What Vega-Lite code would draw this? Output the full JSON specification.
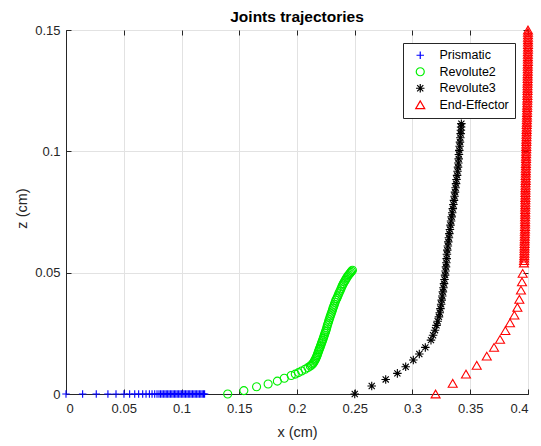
{
  "$schema": "https://vega.github.io/schema/vega-lite/v6.json",
  "autosize": {"type": "none"},
  "padding": {"left": 66, "top": 30, "right": 13, "bottom": 52},
  "width": 462,
  "height": 364,
  "title": {"text": "Joints trajectories", "fontSize": 15.5, "fontWeight": "bold", "color": "#000000", "font": "Liberation Sans", "offset": -2, "anchor": "middle"},
  "data": {"values": [
    {"series": "Prismatic", "x": 0, "z": 0},
    {"series": "Prismatic", "x": 0.0144, "z": 0},
    {"series": "Prismatic", "x": 0.0262, "z": 0},
    {"series": "Prismatic", "x": 0.0363, "z": 0},
    {"series": "Prismatic", "x": 0.0433, "z": 0},
    {"series": "Prismatic", "x": 0.0502, "z": 0},
    {"series": "Prismatic", "x": 0.0551, "z": 0},
    {"series": "Prismatic", "x": 0.0595, "z": 0},
    {"series": "Prismatic", "x": 0.0629, "z": 0},
    {"series": "Prismatic", "x": 0.0664, "z": 0},
    {"series": "Prismatic", "x": 0.0693, "z": 0},
    {"series": "Prismatic", "x": 0.0722, "z": 0},
    {"series": "Prismatic", "x": 0.0745, "z": 0},
    {"series": "Prismatic", "x": 0.0768, "z": 0},
    {"series": "Prismatic", "x": 0.0788, "z": 0},
    {"series": "Prismatic", "x": 0.0805, "z": 0},
    {"series": "Prismatic", "x": 0.0818, "z": 0},
    {"series": "Prismatic", "x": 0.0831, "z": 0},
    {"series": "Prismatic", "x": 0.0843, "z": 0},
    {"series": "Prismatic", "x": 0.0856, "z": 0},
    {"series": "Prismatic", "x": 0.0868, "z": 0},
    {"series": "Prismatic", "x": 0.088, "z": 0},
    {"series": "Prismatic", "x": 0.0892, "z": 0},
    {"series": "Prismatic", "x": 0.0904, "z": 0},
    {"series": "Prismatic", "x": 0.0916, "z": 0},
    {"series": "Prismatic", "x": 0.0928, "z": 0},
    {"series": "Prismatic", "x": 0.094, "z": 0},
    {"series": "Prismatic", "x": 0.0951, "z": 0},
    {"series": "Prismatic", "x": 0.0963, "z": 0},
    {"series": "Prismatic", "x": 0.0975, "z": 0},
    {"series": "Prismatic", "x": 0.0987, "z": 0},
    {"series": "Prismatic", "x": 0.0999, "z": 0},
    {"series": "Prismatic", "x": 0.1011, "z": 0},
    {"series": "Prismatic", "x": 0.1023, "z": 0},
    {"series": "Prismatic", "x": 0.1035, "z": 0},
    {"series": "Prismatic", "x": 0.1047, "z": 0},
    {"series": "Prismatic", "x": 0.1059, "z": 0},
    {"series": "Prismatic", "x": 0.1071, "z": 0},
    {"series": "Prismatic", "x": 0.1083, "z": 0},
    {"series": "Prismatic", "x": 0.1095, "z": 0},
    {"series": "Prismatic", "x": 0.1107, "z": 0},
    {"series": "Prismatic", "x": 0.1119, "z": 0},
    {"series": "Prismatic", "x": 0.1131, "z": 0},
    {"series": "Prismatic", "x": 0.1143, "z": 0},
    {"series": "Prismatic", "x": 0.1155, "z": 0},
    {"series": "Prismatic", "x": 0.1167, "z": 0},
    {"series": "Prismatic", "x": 0.1179, "z": 0},
    {"series": "Prismatic", "x": 0.119, "z": 0},
    {"series": "Prismatic", "x": 0.12, "z": 0},
    {"series": "Revolute2", "x": 0.14, "z": 0},
    {"series": "Revolute2", "x": 0.154, "z": 0.0014},
    {"series": "Revolute2", "x": 0.165, "z": 0.003},
    {"series": "Revolute2", "x": 0.175, "z": 0.0041},
    {"series": "Revolute2", "x": 0.183, "z": 0.0053},
    {"series": "Revolute2", "x": 0.189, "z": 0.0065},
    {"series": "Revolute2", "x": 0.195, "z": 0.0076},
    {"series": "Revolute2", "x": 0.1985, "z": 0.0082},
    {"series": "Revolute2", "x": 0.2013, "z": 0.0088},
    {"series": "Revolute2", "x": 0.204, "z": 0.0095},
    {"series": "Revolute2", "x": 0.207, "z": 0.0102},
    {"series": "Revolute2", "x": 0.2095, "z": 0.0109},
    {"series": "Revolute2", "x": 0.2115, "z": 0.0115},
    {"series": "Revolute2", "x": 0.2125, "z": 0.0119},
    {"series": "Revolute2", "x": 0.2135, "z": 0.0124},
    {"series": "Revolute2", "x": 0.2143, "z": 0.0129},
    {"series": "Revolute2", "x": 0.215, "z": 0.0135},
    {"series": "Revolute2", "x": 0.2156, "z": 0.014},
    {"series": "Revolute2", "x": 0.2162, "z": 0.0145},
    {"series": "Revolute2", "x": 0.2167, "z": 0.0151},
    {"series": "Revolute2", "x": 0.2172, "z": 0.0157},
    {"series": "Revolute2", "x": 0.2177, "z": 0.0163},
    {"series": "Revolute2", "x": 0.2182, "z": 0.017},
    {"series": "Revolute2", "x": 0.2187, "z": 0.0176},
    {"series": "Revolute2", "x": 0.2192, "z": 0.0183},
    {"series": "Revolute2", "x": 0.2197, "z": 0.0189},
    {"series": "Revolute2", "x": 0.2202, "z": 0.0196},
    {"series": "Revolute2", "x": 0.2207, "z": 0.0202},
    {"series": "Revolute2", "x": 0.2212, "z": 0.0209},
    {"series": "Revolute2", "x": 0.2217, "z": 0.0215},
    {"series": "Revolute2", "x": 0.2222, "z": 0.0222},
    {"series": "Revolute2", "x": 0.2227, "z": 0.0229},
    {"series": "Revolute2", "x": 0.2232, "z": 0.0236},
    {"series": "Revolute2", "x": 0.2237, "z": 0.0243},
    {"series": "Revolute2", "x": 0.2242, "z": 0.025},
    {"series": "Revolute2", "x": 0.2247, "z": 0.0257},
    {"series": "Revolute2", "x": 0.2252, "z": 0.0264},
    {"series": "Revolute2", "x": 0.2257, "z": 0.0272},
    {"series": "Revolute2", "x": 0.2262, "z": 0.0281},
    {"series": "Revolute2", "x": 0.2267, "z": 0.0289},
    {"series": "Revolute2", "x": 0.2273, "z": 0.0298},
    {"series": "Revolute2", "x": 0.2278, "z": 0.0306},
    {"series": "Revolute2", "x": 0.2284, "z": 0.0314},
    {"series": "Revolute2", "x": 0.2289, "z": 0.0322},
    {"series": "Revolute2", "x": 0.2295, "z": 0.033},
    {"series": "Revolute2", "x": 0.2301, "z": 0.0338},
    {"series": "Revolute2", "x": 0.2307, "z": 0.0346},
    {"series": "Revolute2", "x": 0.2312, "z": 0.0354},
    {"series": "Revolute2", "x": 0.2318, "z": 0.0362},
    {"series": "Revolute2", "x": 0.2324, "z": 0.037},
    {"series": "Revolute2", "x": 0.233, "z": 0.0378},
    {"series": "Revolute2", "x": 0.2336, "z": 0.0386},
    {"series": "Revolute2", "x": 0.2343, "z": 0.0393},
    {"series": "Revolute2", "x": 0.235, "z": 0.04},
    {"series": "Revolute2", "x": 0.2357, "z": 0.0408},
    {"series": "Revolute2", "x": 0.2364, "z": 0.0416},
    {"series": "Revolute2", "x": 0.2372, "z": 0.0424},
    {"series": "Revolute2", "x": 0.238, "z": 0.0433},
    {"series": "Revolute2", "x": 0.2388, "z": 0.0442},
    {"series": "Revolute2", "x": 0.2395, "z": 0.0449},
    {"series": "Revolute2", "x": 0.2402, "z": 0.0455},
    {"series": "Revolute2", "x": 0.2409, "z": 0.0462},
    {"series": "Revolute2", "x": 0.2417, "z": 0.0468},
    {"series": "Revolute2", "x": 0.2424, "z": 0.0474},
    {"series": "Revolute2", "x": 0.2432, "z": 0.048},
    {"series": "Revolute2", "x": 0.244, "z": 0.0486},
    {"series": "Revolute2", "x": 0.2448, "z": 0.0491},
    {"series": "Revolute2", "x": 0.2456, "z": 0.0496},
    {"series": "Revolute2", "x": 0.2464, "z": 0.0501},
    {"series": "Revolute2", "x": 0.2472, "z": 0.0506},
    {"series": "Revolute2", "x": 0.248, "z": 0.051},
    {"series": "Revolute3", "x": 0.25, "z": 0},
    {"series": "Revolute3", "x": 0.2647, "z": 0.0033},
    {"series": "Revolute3", "x": 0.2768, "z": 0.006},
    {"series": "Revolute3", "x": 0.2869, "z": 0.0085},
    {"series": "Revolute3", "x": 0.2941, "z": 0.0112},
    {"series": "Revolute3", "x": 0.3007, "z": 0.014},
    {"series": "Revolute3", "x": 0.3059, "z": 0.0165},
    {"series": "Revolute3", "x": 0.3111, "z": 0.0192},
    {"series": "Revolute3", "x": 0.316, "z": 0.0222},
    {"series": "Revolute3", "x": 0.3178, "z": 0.0242},
    {"series": "Revolute3", "x": 0.3195, "z": 0.0263},
    {"series": "Revolute3", "x": 0.3208, "z": 0.0283},
    {"series": "Revolute3", "x": 0.3218, "z": 0.03},
    {"series": "Revolute3", "x": 0.3229, "z": 0.0318},
    {"series": "Revolute3", "x": 0.3236, "z": 0.0335},
    {"series": "Revolute3", "x": 0.3242, "z": 0.0352},
    {"series": "Revolute3", "x": 0.3248, "z": 0.037},
    {"series": "Revolute3", "x": 0.3253, "z": 0.0387},
    {"series": "Revolute3", "x": 0.3258, "z": 0.0404},
    {"series": "Revolute3", "x": 0.3263, "z": 0.0421},
    {"series": "Revolute3", "x": 0.3268, "z": 0.0438},
    {"series": "Revolute3", "x": 0.3273, "z": 0.0455},
    {"series": "Revolute3", "x": 0.3277, "z": 0.0472},
    {"series": "Revolute3", "x": 0.3282, "z": 0.049},
    {"series": "Revolute3", "x": 0.3286, "z": 0.0507},
    {"series": "Revolute3", "x": 0.329, "z": 0.0524},
    {"series": "Revolute3", "x": 0.3293, "z": 0.0541},
    {"series": "Revolute3", "x": 0.3296, "z": 0.0558},
    {"series": "Revolute3", "x": 0.3298, "z": 0.0576},
    {"series": "Revolute3", "x": 0.3301, "z": 0.0593},
    {"series": "Revolute3", "x": 0.3306, "z": 0.061},
    {"series": "Revolute3", "x": 0.331, "z": 0.0627},
    {"series": "Revolute3", "x": 0.3315, "z": 0.0644},
    {"series": "Revolute3", "x": 0.3319, "z": 0.0661},
    {"series": "Revolute3", "x": 0.3324, "z": 0.0678},
    {"series": "Revolute3", "x": 0.3329, "z": 0.0696},
    {"series": "Revolute3", "x": 0.3334, "z": 0.0713},
    {"series": "Revolute3", "x": 0.3339, "z": 0.073},
    {"series": "Revolute3", "x": 0.3344, "z": 0.0747},
    {"series": "Revolute3", "x": 0.3349, "z": 0.0764},
    {"series": "Revolute3", "x": 0.3354, "z": 0.0781},
    {"series": "Revolute3", "x": 0.3359, "z": 0.0798},
    {"series": "Revolute3", "x": 0.3364, "z": 0.0815},
    {"series": "Revolute3", "x": 0.3368, "z": 0.0832},
    {"series": "Revolute3", "x": 0.3373, "z": 0.085},
    {"series": "Revolute3", "x": 0.3377, "z": 0.0867},
    {"series": "Revolute3", "x": 0.3381, "z": 0.0884},
    {"series": "Revolute3", "x": 0.3386, "z": 0.0901},
    {"series": "Revolute3", "x": 0.339, "z": 0.0918},
    {"series": "Revolute3", "x": 0.3394, "z": 0.0935},
    {"series": "Revolute3", "x": 0.3397, "z": 0.0952},
    {"series": "Revolute3", "x": 0.34, "z": 0.0969},
    {"series": "Revolute3", "x": 0.3402, "z": 0.0987},
    {"series": "Revolute3", "x": 0.3405, "z": 0.1004},
    {"series": "Revolute3", "x": 0.3408, "z": 0.1021},
    {"series": "Revolute3", "x": 0.3411, "z": 0.1038},
    {"series": "Revolute3", "x": 0.3414, "z": 0.1056},
    {"series": "Revolute3", "x": 0.3417, "z": 0.1073},
    {"series": "Revolute3", "x": 0.3419, "z": 0.1087},
    {"series": "Revolute3", "x": 0.3421, "z": 0.11},
    {"series": "Revolute3", "x": 0.3423, "z": 0.1114},
    {"series": "End-Effector", "x": 0.32, "z": 0},
    {"series": "End-Effector", "x": 0.3348, "z": 0.0044},
    {"series": "End-Effector", "x": 0.3463, "z": 0.0082},
    {"series": "End-Effector", "x": 0.3556, "z": 0.0118},
    {"series": "End-Effector", "x": 0.3643, "z": 0.0156},
    {"series": "End-Effector", "x": 0.3706, "z": 0.0192},
    {"series": "End-Effector", "x": 0.3758, "z": 0.0225},
    {"series": "End-Effector", "x": 0.3804, "z": 0.0261},
    {"series": "End-Effector", "x": 0.3844, "z": 0.0293},
    {"series": "End-Effector", "x": 0.3882, "z": 0.0325},
    {"series": "End-Effector", "x": 0.3908, "z": 0.0357},
    {"series": "End-Effector", "x": 0.3925, "z": 0.039},
    {"series": "End-Effector", "x": 0.3939, "z": 0.0428},
    {"series": "End-Effector", "x": 0.3948, "z": 0.0462},
    {"series": "End-Effector", "x": 0.3954, "z": 0.0497},
    {"series": "End-Effector", "x": 0.3965, "z": 0.054},
    {"series": "End-Effector", "x": 0.3966, "z": 0.055},
    {"series": "End-Effector", "x": 0.3967, "z": 0.056},
    {"series": "End-Effector", "x": 0.3968, "z": 0.057},
    {"series": "End-Effector", "x": 0.3969, "z": 0.058},
    {"series": "End-Effector", "x": 0.3969, "z": 0.059},
    {"series": "End-Effector", "x": 0.397, "z": 0.06},
    {"series": "End-Effector", "x": 0.397, "z": 0.061},
    {"series": "End-Effector", "x": 0.3971, "z": 0.062},
    {"series": "End-Effector", "x": 0.3971, "z": 0.063},
    {"series": "End-Effector", "x": 0.3972, "z": 0.064},
    {"series": "End-Effector", "x": 0.3972, "z": 0.065},
    {"series": "End-Effector", "x": 0.3973, "z": 0.066},
    {"series": "End-Effector", "x": 0.3973, "z": 0.067},
    {"series": "End-Effector", "x": 0.3974, "z": 0.068},
    {"series": "End-Effector", "x": 0.3974, "z": 0.069},
    {"series": "End-Effector", "x": 0.3975, "z": 0.07},
    {"series": "End-Effector", "x": 0.3975, "z": 0.071},
    {"series": "End-Effector", "x": 0.3975, "z": 0.072},
    {"series": "End-Effector", "x": 0.3975, "z": 0.073},
    {"series": "End-Effector", "x": 0.3976, "z": 0.074},
    {"series": "End-Effector", "x": 0.3976, "z": 0.075},
    {"series": "End-Effector", "x": 0.3976, "z": 0.076},
    {"series": "End-Effector", "x": 0.3976, "z": 0.077},
    {"series": "End-Effector", "x": 0.3977, "z": 0.078},
    {"series": "End-Effector", "x": 0.3977, "z": 0.079},
    {"series": "End-Effector", "x": 0.3977, "z": 0.08},
    {"series": "End-Effector", "x": 0.3977, "z": 0.081},
    {"series": "End-Effector", "x": 0.3978, "z": 0.082},
    {"series": "End-Effector", "x": 0.3978, "z": 0.083},
    {"series": "End-Effector", "x": 0.3978, "z": 0.084},
    {"series": "End-Effector", "x": 0.3978, "z": 0.085},
    {"series": "End-Effector", "x": 0.3979, "z": 0.086},
    {"series": "End-Effector", "x": 0.3979, "z": 0.087},
    {"series": "End-Effector", "x": 0.398, "z": 0.088},
    {"series": "End-Effector", "x": 0.398, "z": 0.089},
    {"series": "End-Effector", "x": 0.398, "z": 0.09},
    {"series": "End-Effector", "x": 0.3981, "z": 0.091},
    {"series": "End-Effector", "x": 0.3981, "z": 0.092},
    {"series": "End-Effector", "x": 0.3981, "z": 0.093},
    {"series": "End-Effector", "x": 0.3982, "z": 0.094},
    {"series": "End-Effector", "x": 0.3982, "z": 0.095},
    {"series": "End-Effector", "x": 0.3983, "z": 0.096},
    {"series": "End-Effector", "x": 0.3983, "z": 0.097},
    {"series": "End-Effector", "x": 0.3983, "z": 0.098},
    {"series": "End-Effector", "x": 0.3984, "z": 0.099},
    {"series": "End-Effector", "x": 0.3984, "z": 0.1},
    {"series": "End-Effector", "x": 0.3985, "z": 0.101},
    {"series": "End-Effector", "x": 0.3985, "z": 0.102},
    {"series": "End-Effector", "x": 0.3985, "z": 0.103},
    {"series": "End-Effector", "x": 0.3986, "z": 0.104},
    {"series": "End-Effector", "x": 0.3986, "z": 0.105},
    {"series": "End-Effector", "x": 0.3987, "z": 0.106},
    {"series": "End-Effector", "x": 0.3987, "z": 0.107},
    {"series": "End-Effector", "x": 0.3988, "z": 0.108},
    {"series": "End-Effector", "x": 0.3988, "z": 0.109},
    {"series": "End-Effector", "x": 0.3989, "z": 0.11},
    {"series": "End-Effector", "x": 0.3989, "z": 0.111},
    {"series": "End-Effector", "x": 0.399, "z": 0.112},
    {"series": "End-Effector", "x": 0.399, "z": 0.113},
    {"series": "End-Effector", "x": 0.3991, "z": 0.114},
    {"series": "End-Effector", "x": 0.3991, "z": 0.115},
    {"series": "End-Effector", "x": 0.3992, "z": 0.116},
    {"series": "End-Effector", "x": 0.3992, "z": 0.117},
    {"series": "End-Effector", "x": 0.3993, "z": 0.118},
    {"series": "End-Effector", "x": 0.3993, "z": 0.119},
    {"series": "End-Effector", "x": 0.3994, "z": 0.12},
    {"series": "End-Effector", "x": 0.3994, "z": 0.121},
    {"series": "End-Effector", "x": 0.3995, "z": 0.122},
    {"series": "End-Effector", "x": 0.3995, "z": 0.123},
    {"series": "End-Effector", "x": 0.3995, "z": 0.124},
    {"series": "End-Effector", "x": 0.3996, "z": 0.125},
    {"series": "End-Effector", "x": 0.3996, "z": 0.126},
    {"series": "End-Effector", "x": 0.3996, "z": 0.127},
    {"series": "End-Effector", "x": 0.3996, "z": 0.128},
    {"series": "End-Effector", "x": 0.3997, "z": 0.129},
    {"series": "End-Effector", "x": 0.3997, "z": 0.13},
    {"series": "End-Effector", "x": 0.3997, "z": 0.131},
    {"series": "End-Effector", "x": 0.3997, "z": 0.132},
    {"series": "End-Effector", "x": 0.3998, "z": 0.133},
    {"series": "End-Effector", "x": 0.3998, "z": 0.134},
    {"series": "End-Effector", "x": 0.3998, "z": 0.135},
    {"series": "End-Effector", "x": 0.3998, "z": 0.136},
    {"series": "End-Effector", "x": 0.3999, "z": 0.137},
    {"series": "End-Effector", "x": 0.3999, "z": 0.138},
    {"series": "End-Effector", "x": 0.3999, "z": 0.139},
    {"series": "End-Effector", "x": 0.3999, "z": 0.14},
    {"series": "End-Effector", "x": 0.3999, "z": 0.141},
    {"series": "End-Effector", "x": 0.4, "z": 0.142},
    {"series": "End-Effector", "x": 0.4, "z": 0.143},
    {"series": "End-Effector", "x": 0.4, "z": 0.144},
    {"series": "End-Effector", "x": 0.4, "z": 0.145},
    {"series": "End-Effector", "x": 0.4, "z": 0.146},
    {"series": "End-Effector", "x": 0.4, "z": 0.147},
    {"series": "End-Effector", "x": 0.4, "z": 0.148},
    {"series": "End-Effector", "x": 0.4, "z": 0.149},
    {"series": "End-Effector", "x": 0.4, "z": 0.15}
  ]},
  "layer": [
    {
      "mark": {"type": "point", "filled": false, "strokeWidth": 1.1, "opacity": 1},
      "encoding": {
        "x": {"field": "x", "type": "quantitative",
              "scale": {"domain": [0, 0.4], "nice": false, "zero": false},
              "axis": {"values": [0, 0.05, 0.1, 0.15, 0.2, 0.25, 0.3, 0.35, 0.4], "labelExpr": "toString(round(datum.value * 100) / 100)", "title": "x (cm)", "grid": true, "labelPadding": 13, "titlePadding": 10}},
        "y": {"field": "z", "type": "quantitative",
              "scale": {"domain": [0, 0.15], "nice": false, "zero": false},
              "axis": {"values": [0, 0.05, 0.1, 0.15], "labelExpr": "toString(round(datum.value * 100) / 100)", "title": "z (cm)", "grid": true, "labelPadding": 11, "titleX": -44, "titleY": 178, "titleBaseline": "middle"}},
        "color": {"field": "series", "type": "nominal",
                  "scale": {"domain": ["Prismatic", "Revolute2", "Revolute3", "End-Effector"], "range": ["#0000ff", "#00f000", "#000000", "#ff0000"]},
                  "legend": {"title": null}},
        "shape": {"field": "series", "type": "nominal",
                  "scale": {"domain": ["Prismatic", "Revolute2", "Revolute3", "End-Effector"], "range": ["M-1,0L1,0M0,-1L0,1", "circle", "M-1,0L1,0M0,-1L0,1M-0.72,-0.72L0.72,0.72M-0.72,0.72L0.72,-0.72", "triangle-up"]},
                  "legend": {"title": null}},
        "size": {"field": "series", "type": "nominal",
                 "scale": {"domain": ["Prismatic", "Revolute2", "Revolute3", "End-Effector"], "range": [56, 81, 81, 90]},
                 "legend": null}
      }
    },
    {
      "mark": {"type": "point", "opacity": 0},
      "encoding": {
        "x": {"field": "x", "type": "quantitative",
              "axis": {"orient": "top", "values": [0, 0.05, 0.1, 0.15, 0.2, 0.25, 0.3, 0.35, 0.4], "labels": false, "grid": false, "domain": false, "title": null}},
        "y": {"field": "z", "type": "quantitative",
              "axis": {"orient": "right", "values": [0, 0.05, 0.1, 0.15], "labels": false, "grid": false, "domain": false, "title": null}}
      }
    }
  ],
  "resolve": {"axis": {"x": "independent", "y": "independent"}},
  "config": {
    "font": "Liberation Sans",
    "view": {"stroke": "#262626", "strokeWidth": 1},
    "axis": {
      "labelFont": "Liberation Sans", "labelFontSize": 13, "labelColor": "#262626",
      "titleFont": "Liberation Sans", "titleFontSize": 14.5, "titleFontWeight": "normal", "titleColor": "#262626",
      "domainColor": "#262626", "tickColor": "#262626", "tickSize": -5,
      "gridColor": "#e2e2e2", "gridWidth": 1
    },
    "legend": {
      "orient": "top-right", "offset": 13, "padding": 6,
      "strokeColor": "#262626", "fillColor": "#ffffff",
      "labelFont": "Liberation Sans", "labelFontSize": 12.5, "labelColor": "#000000",
      "symbolStrokeWidth": 1.2, "symbolSize": 64, "rowPadding": 2.5,
      "labelOffset": 13, "symbolOffset": 5
    }
  }
}
